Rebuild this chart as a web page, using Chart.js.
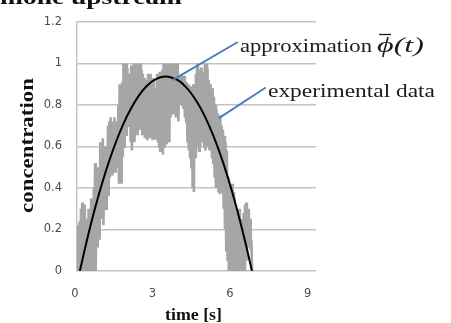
<!DOCTYPE html>
<html>
<head>
<meta charset="utf-8">
<script src="https://cdn.jsdelivr.net/npm/chart.js@4.4.0/dist/chart.umd.min.js"></script>
<style>
  html, body { margin: 0; padding: 0; background: #ffffff; }
  canvas { display: block; }
</style>
</head>
<body>
<canvas id="c" width="451" height="323"></canvas>
<script>
// ---------------- data ----------------
const titleText = "hormone upstream";
const xAxisTitle = "time [s]";
const yAxisTitle = "concentration";
const approxLabel = "approximation";
const approxSymbol = "\u03D5(t)";
const dataLabel = "experimental data";

const xTickValues = [0, 3, 6, 9];
const yTickValues = [0, 0.2, 0.4, 0.6, 0.8, 1, 1.2];
const yTickLabels = ["0", "0.2", "0.4", "0.6", "0.8", "1", "1.2"];

// approximation curve
const approxTime  = [0.11, 0.30, 0.50, 0.70, 0.90, 1.20, 1.50, 1.80, 2.10, 2.40, 2.70, 3.00, 3.44, 3.90, 4.20, 4.50, 4.80, 5.10, 5.40, 5.70, 6.00, 6.30, 6.55, 6.77];
const approxValue = [0.00, 0.104, 0.207, 0.303, 0.392, 0.513, 0.619, 0.710, 0.785, 0.846, 0.891, 0.921, 0.937, 0.919, 0.888, 0.842, 0.781, 0.704, 0.612, 0.505, 0.383, 0.246, 0.120, 0.00];

// experimental data: each sample time carries the high and the low reading of the fast oscillation
const expTime = [
  0.00,0.05,0.10,0.15,0.20,0.25,0.30,0.35,0.40,0.45,0.50,0.55,0.60,0.65,0.70,0.75,0.80,0.85,0.90,0.95,
  1.00,1.05,1.10,1.15,1.20,1.25,1.30,1.35,1.40,1.45,1.50,1.55,1.60,1.65,1.70,1.75,1.80,1.85,1.90,1.95,
  2.00,2.05,2.10,2.15,2.20,2.25,2.30,2.35,2.40,2.45,2.50,2.55,2.60,2.65,2.70,2.75,2.80,2.85,2.90,2.95,
  3.00,3.05,3.10,3.15,3.20,3.25,3.30,3.35,3.40,3.45,3.50,3.55,3.60,3.65,3.70,3.75,3.80,3.85,3.90,3.95,
  4.00,4.05,4.10,4.15,4.20,4.25,4.30,4.35,4.40,4.45,4.50,4.55,4.60,4.65,4.70,4.75,4.80,4.85,4.90,4.95,
  5.00,5.05,5.10,5.15,5.20,5.25,5.30,5.35,5.40,5.45,5.50,5.55,5.60,5.65,5.70,5.75,5.80,5.85,5.90,5.95,
  6.00,6.05,6.10,6.15,6.20,6.25,6.30,6.35,6.40,6.45,6.50,6.55,6.60,6.65,6.70,6.75
];
const expHigh = [
  0.22,0.20,0.24,0.30,0.33,0.28,0.32,0.25,0.22,0.30,0.28,0.35,0.30,0.40,0.52,0.45,0.50,0.48,0.62,0.55,
  0.64,0.58,0.60,0.56,0.70,0.72,0.74,0.72,0.68,0.74,0.72,0.70,0.80,0.90,0.88,0.91,1.00,1.00,1.00,0.98,
  0.95,0.90,0.99,0.96,1.00,1.00,1.00,0.98,1.00,1.00,0.97,0.95,0.93,0.90,0.92,0.95,0.92,0.95,0.90,0.93,
  0.88,0.84,0.95,0.93,0.96,0.95,0.97,1.00,1.00,0.98,1.00,0.99,1.00,1.00,0.98,1.00,1.00,0.97,1.00,0.94,
  0.93,0.95,0.92,0.94,0.90,0.91,0.90,0.88,0.89,0.85,0.90,0.88,0.95,1.00,0.97,0.95,0.98,0.93,0.96,1.00,
  1.00,0.98,0.92,0.90,0.85,0.88,0.84,0.80,0.78,0.76,0.72,0.75,0.70,0.68,0.65,0.62,0.58,0.45,0.42,0.40,
  0.42,0.38,0.35,0.32,0.30,0.28,0.30,0.25,0.22,0.28,0.32,0.33,0.28,0.30,0.25,0.15
];
const expLow = [
  0.00,0.02,0.00,0.05,0.00,0.03,0.00,0.02,0.00,0.05,0.00,0.02,0.00,0.05,0.00,0.12,0.18,0.15,0.25,0.30,
  0.22,0.35,0.30,0.38,0.36,0.45,0.50,0.46,0.52,0.48,0.55,0.50,0.42,0.45,0.42,0.55,0.60,0.70,0.65,0.80,
  0.70,0.62,0.58,0.65,0.62,0.70,0.66,0.72,0.68,0.75,0.66,0.70,0.64,0.68,0.63,0.66,0.64,0.70,0.63,0.66,
  0.64,0.70,0.62,0.60,0.58,0.62,0.56,0.60,0.62,0.61,0.66,0.62,0.74,0.78,0.76,0.80,0.74,0.78,0.72,0.80,
  0.82,0.80,0.78,0.74,0.72,0.62,0.58,0.55,0.50,0.40,0.38,0.55,0.60,0.62,0.58,0.60,0.62,0.65,0.60,0.58,
  0.60,0.62,0.58,0.60,0.55,0.52,0.45,0.40,0.42,0.38,0.37,0.40,0.38,0.30,0.20,0.10,0.05,0.00,0.05,0.00,
  0.03,0.00,0.05,0.00,0.02,0.00,0.05,0.00,0.03,0.00,0.10,0.05,0.12,0.15,0.10,0.00
];
const halfSampleStep = 0.025; // the low reading follows the high one by half a sample

// annotation anchors on the data (t, value)
const approxLeaderAnchor = [3.73, 0.922];
const dataLeaderAnchor = [5.51, 0.738];

// ---------------- drawing ----------------
function scaledText(ctx, text, x, y, font, targetWidth, color, align) {
  ctx.save();
  ctx.font = font;
  ctx.fillStyle = color;
  ctx.textBaseline = 'alphabetic';
  ctx.textAlign = 'left';
  const w = ctx.measureText(text).width;
  const s = targetWidth / w;
  ctx.translate(x, y);
  ctx.scale(s, 1);
  ctx.fillText(text, align === 'center' ? -w / 2 : 0, 0);
  ctx.restore();
}

const overlay = {
  id: 'overlay',
  afterDraw(chart) {
    const ctx = chart.ctx;
    const xs = chart.scales.x, ys = chart.scales.y;
    const blue = '#4a7ebb';
    const txt = '#1e1a18';

    // leader lines
    ctx.save();
    ctx.strokeStyle = blue;
    ctx.lineWidth = 2;
    ctx.lineCap = 'round';
    ctx.beginPath();
    ctx.moveTo(xs.getPixelForValue(approxLeaderAnchor[0]), ys.getPixelForValue(approxLeaderAnchor[1]));
    ctx.lineTo(237, 42.5);
    ctx.moveTo(xs.getPixelForValue(dataLeaderAnchor[0]), ys.getPixelForValue(dataLeaderAnchor[1]));
    ctx.lineTo(265, 88);
    ctx.stroke();
    ctx.restore();

    // annotation texts
    scaledText(ctx, approxLabel, 240, 51.5, '19px "Liberation Serif"', 132, txt, 'left');
    scaledText(ctx, approxSymbol, 377, 52, 'italic 22px "Liberation Serif"', 47, txt, 'left');
    ctx.save();
    ctx.strokeStyle = txt;
    ctx.lineWidth = 1.3;
    ctx.beginPath();
    ctx.moveTo(379, 34.5);
    ctx.lineTo(391, 34.5);
    ctx.stroke();
    ctx.restore();
    scaledText(ctx, dataLabel, 268, 97, '19px "Liberation Serif"', 167, txt, 'left');

    // axis titles
    scaledText(ctx, xAxisTitle, 193.5, 320, 'bold 16px "Liberation Serif"', 57, '#111', 'center');
    ctx.save();
    ctx.translate(33.3, 145.5);
    ctx.rotate(-Math.PI / 2);
    scaledText(ctx, yAxisTitle, 0, 0, 'bold 18px "Liberation Serif"', 135, '#111', 'center');
    ctx.restore();

    // clipped title at the very top
    ctx.save();
    ctx.font = 'bold 22px "Liberation Serif"';
    const full = ctx.measureText(titleText).width;
    const prefix = ctx.measureText('hor').width;
    const rest = full - prefix;
    const s = 182 / rest;
    ctx.translate(-prefix * s, 4);
    ctx.scale(s, 1);
    ctx.fillStyle = '#111';
    ctx.fillText(titleText, 0, 0);
    ctx.restore();
  }
};

const expPoints = [];
expTime.forEach((t, i) => {
  expPoints.push({ x: t, y: expHigh[i] });
  expPoints.push({ x: t + halfSampleStep, y: expLow[i] });
});

const ctx = document.getElementById('c').getContext('2d');
new Chart(ctx, {
  type: 'line',
  data: {
    datasets: [
      {
        label: approxLabel,
        data: approxTime.map((t, i) => ({ x: t, y: approxValue[i] })),
        borderColor: '#000000',
        borderWidth: 2,
        pointRadius: 0,
        tension: 0.4,
        fill: false
      },
      {
        label: dataLabel,
        data: expPoints,
        borderColor: '#a6a6a6',
        borderWidth: 2.6,
        borderJoinStyle: 'miter',
        pointRadius: 0,
        tension: 0,
        fill: false
      }
    ]
  },
  options: {
    responsive: false,
    animation: false,
    devicePixelRatio: 1,
    layout: { padding: { left: 0, top: 19, right: 135, bottom: 0 } },
    plugins: { legend: { display: false }, tooltip: { enabled: false } },
    scales: {
      x: {
        type: 'linear',
        min: 0,
        max: 9.25,
        afterBuildTicks: (scale) => { scale.ticks = xTickValues.map(v => ({ value: v })); },
        afterFit: (scale) => { scale.height = 323 - 271; },
        grid: { display: false, drawTicks: false },
        border: { display: false },
        ticks: {
          padding: 16,
          labelOffset: -2,
          maxRotation: 0,
          autoSkip: false,
          color: '#4d4d4d',
          font: { family: '"DejaVu Sans"', size: 11.5 }
        }
      },
      y: {
        type: 'linear',
        min: 0,
        max: 1.2,
        afterBuildTicks: (scale) => { scale.ticks = yTickValues.map(v => ({ value: v })); },
        afterFit: (scale) => { scale.width = 77; },
        grid: { color: '#c3c3c3', lineWidth: 1.5, drawTicks: false },
        border: { display: true, color: '#c3c3c3', width: 1.5 },
        ticks: {
          padding: 15,
          autoSkip: false,
          color: '#4d4d4d',
          font: { family: '"DejaVu Sans"', size: 11.5 },
          callback: (v) => { const i = yTickValues.indexOf(v); return i >= 0 ? yTickLabels[i] : ''; }
        }
      }
    }
  },
  plugins: [overlay]
});
</script>
</body>
</html>
